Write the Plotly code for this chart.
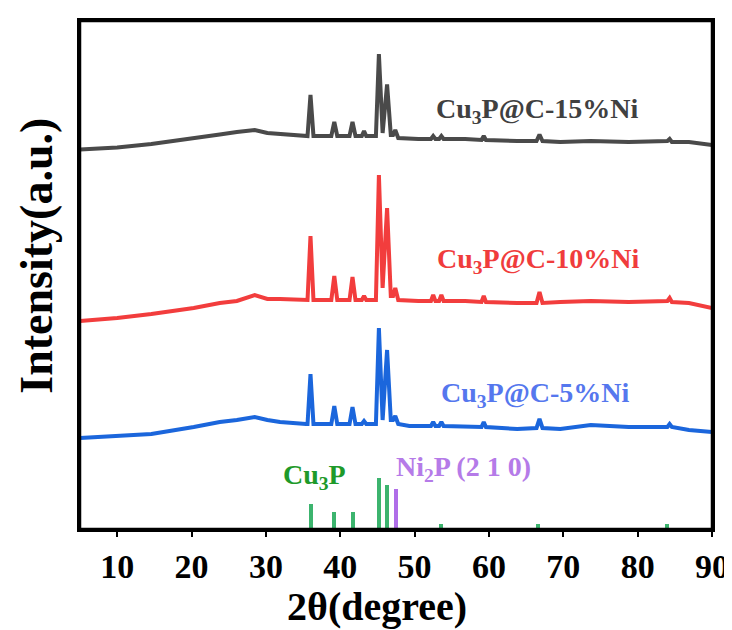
import plotly.graph_objects as go

# 2theta sample points (degrees)
two_theta = [5, 10, 14.6, 20.3, 23.8, 26.1, 28.5, 30.2, 31.9, 35.4, 35.6, 36.0, 36.4,
             38.8, 39.2, 39.6, 41.25, 41.65, 42.05, 42.9, 43.2, 43.5, 44.8, 45.2, 45.7,
             46.3, 46.8, 47.1, 47.4, 47.8, 49.3, 50.5, 52.2, 52.5, 52.8, 53.3, 53.6, 53.9,
             56.8, 59.0, 59.3, 59.6, 63.8, 66.4, 66.8, 67.2, 69.6, 73.7, 78.8, 84.0, 84.3,
             84.6, 86.9, 90]

# stacked intensities (a.u., offsets included)
ni15 = [379.4, 381.5, 385, 391.5, 394.5, 397, 399, 396, 395, 393, 393, 434, 393,
        393, 407, 393, 393, 407, 393, 393, 398, 393, 393, 475, 396,
        444.5, 394, 394, 399, 391, 390, 390, 390, 393, 390, 390, 393, 390,
        390, 389, 393, 389, 388, 388, 394.5, 388, 387, 388, 387, 388, 390,
        387, 387, 384]
ni10 = [208, 211, 215, 221, 226, 228, 234, 230, 230, 229, 229, 293, 229,
        229, 253, 229, 229, 252, 229, 229, 233, 229, 229, 354, 241,
        321, 233, 233, 241, 229, 228, 228, 228, 234, 228, 228, 234, 228,
        228, 227, 233, 227, 226, 226, 237, 226, 227, 228, 227, 228, 231,
        227, 226, 221]
ni5 = [91, 93, 95, 102, 107, 109, 112, 109, 107, 105, 105, 155, 105,
       105, 123, 105, 105, 122, 105, 105, 108, 105, 105, 201, 109,
       179, 109, 109, 113, 105, 103, 103, 103, 107, 103, 103, 107, 103,
       103, 102, 107, 102, 100, 101, 110, 101, 100, 104, 102, 102, 105,
       102, 99, 97]

# reference patterns (stick positions and heights)
cu3p_pos = [36.1, 39.2, 41.7, 45.25, 46.3, 53.6, 66.6, 84.0]
cu3p_h = [25, 17, 17, 51, 44, 5, 5, 5]
ni2p_pos = [47.45]
ni2p_h = [40]

x_ticks = [10, 20, 30, 40, 50, 60, 70, 80, 90]

FONT = "Liberation Serif"

fig = go.Figure()
fig.add_trace(go.Scatter(x=two_theta, y=ni15, mode="lines",
                         line=dict(color="#4a4a4a", width=4), name="15%Ni"))
fig.add_trace(go.Scatter(x=two_theta, y=ni10, mode="lines",
                         line=dict(color="#f23d3d", width=4), name="10%Ni"))
fig.add_trace(go.Scatter(x=two_theta, y=ni5, mode="lines",
                         line=dict(color="#1b66dc", width=4), name="5%Ni"))
fig.add_trace(go.Bar(x=cu3p_pos, y=cu3p_h, width=0.55, marker=dict(color="#3cb46e", line_width=0),
                     name="Cu3P"))
fig.add_trace(go.Bar(x=ni2p_pos, y=ni2p_h, width=0.55, marker=dict(color="#b06ee8", line_width=0),
                     name="Ni2P"))

ann = [
    dict(x=426, y=102, text="Cu<sub>3</sub>P@C-15%Ni", color="#404040"),
    dict(x=427, y=252, text="Cu<sub>3</sub>P@C-10%Ni", color="#f03c3c"),
    dict(x=431, y=386, text="Cu<sub>3</sub>P@C-5%Ni", color="#5577ee"),
    dict(x=273, y=468, text="Cu<sub>3</sub>P", color="#1e9a2a"),
    dict(x=386, y=460, text="Ni<sub>2</sub>P (2 1 0)", color="#b57be8"),
]
annotations = []
for a in ann:
    annotations.append(dict(
        x=5 + (a["x"] - 72) / 7.435, y=521 - a["y"], xref="x", yref="y",
        text="<b>" + a["text"] + "</b>", showarrow=False, xanchor="left", yanchor="middle",
        font=dict(family=FONT, size=28, color=a["color"])))
annotations.append(dict(x=0.47, y=-0.153, xref="paper", yref="paper",
                        text="<b>2θ(degree)</b>", showarrow=False, xanchor="center", yanchor="middle",
                        font=dict(family=FONT, size=40, color="black")))
annotations.append(dict(x=-0.068, y=0.538, xref="paper", yref="paper", textangle=-90,
                        text="<b>Intensity(a.u.)</b>", showarrow=False, xanchor="center", yanchor="middle",
                        font=dict(family=FONT, size=46, color="black")))

fig.update_layout(
    width=732, height=630,
    margin=dict(l=72, r=28, t=13, b=109, autoexpand=False),
    plot_bgcolor="white", paper_bgcolor="white",
    showlegend=False, bargap=0,
    annotations=annotations,
    shapes=[dict(type="rect", xref="paper", yref="paper", x0=0, y0=0, x1=1, y1=1,
                 line=dict(color="black", width=2.5), layer="above")],
    xaxis=dict(range=[5, 90], tickvals=x_ticks, ticktext=[str(t) for t in x_ticks],
               showgrid=False, zeroline=False, showline=True, mirror=True, automargin=False,
               linecolor="black", linewidth=2.5, ticks="outside", ticklen=5,
               tickwidth=2, tickcolor="black",
               tickfont=dict(family=FONT, size=34, color="black", weight="bold")),
    yaxis=dict(range=[0, 508], showgrid=False, zeroline=False, showline=True, mirror=True,
               automargin=False, linecolor="black", linewidth=2.5, ticks="",
               showticklabels=False),
)

fig.write_html("out.html")
